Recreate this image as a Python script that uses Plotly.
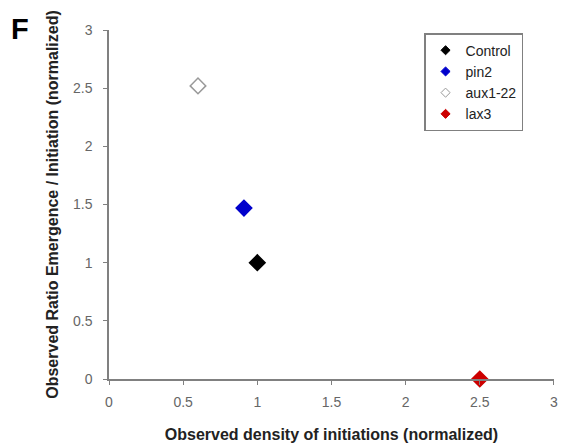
import plotly.graph_objects as go

names = ["Control", "pin2", "aux1-22", "lax3"]
x_vals = [1.0, 0.91, 0.60, 2.50]
y_vals = [1.0, 1.47, 2.52, 0.0]
fill_colors = ["#000000", "#0000CC", "#FFFFFF", "#CC0000"]
line_colors = ["#000000", "#0000CC", "#999999", "#CC0000"]
tick_vals = [0, 0.5, 1, 1.5, 2, 2.5, 3]
tick_text = ["0", "0.5", "1", "1.5", "2", "2.5", "3"]

FONT = "Arial, Liberation Sans"

fig = go.Figure()
for n, x, y, fc, lc in zip(names, x_vals, y_vals, fill_colors, line_colors):
    fig.add_trace(go.Scatter(
        x=[x], y=[y], mode="markers", name=n, showlegend=False,
        marker=dict(symbol="diamond", size=12, color=fc,
                    line=dict(color=lc, width=1.5)),
        cliponaxis=False,
    ))
# legend entries with small symbols
for n, fc, lc in zip(names, fill_colors, line_colors):
    fig.add_trace(go.Scatter(
        x=[None], y=[None], mode="markers", name=n,
        marker=dict(symbol="diamond", size=7, color=fc,
                    line=dict(color=lc, width=1)),
    ))

axis_common = dict(
    tickvals=tick_vals, ticktext=tick_text, automargin=False,
    showgrid=False, zeroline=False, showline=True, linecolor="#808080",
    linewidth=1.5, ticks="outside", ticklen=4, tickcolor="#808080",
    tickfont=dict(family=FONT, size=14, color="#666666"),
)

fig.update_layout(
    width=561, height=445,
    margin=dict(l=109, r=7, t=30, b=66, autoexpand=False),
    paper_bgcolor="white", plot_bgcolor="white",
    xaxis=dict(**axis_common, range=[0, 3.0005], ticklabelstandoff=5,
               title=dict(text="<b>Observed density of initiations (normalized)</b>",
                          font=dict(family=FONT, size=16, color="#222222"),
                          standoff=20)),
    yaxis=dict(**axis_common, range=[0, 3.0005], ticklabelstandoff=8,
               title=dict(text="<b>Observed Ratio Emergence / Initiation (normalized)</b>",
                          font=dict(family=FONT, size=16, color="#222222"),
                          standoff=10)),
    legend=dict(x=0.708, y=0.991, xanchor="left", yanchor="top",
                bordercolor="#808080", borderwidth=1.5, bgcolor="white",
                font=dict(family=FONT, size=14, color="#222222"),
                itemwidth=30, tracegroupgap=0),
    showlegend=True,
)
fig.add_annotation(text="<b>F</b>", xref="paper", yref="paper", x=-0.225, y=1.003,
                   xanchor="left", yanchor="middle", showarrow=False,
                   font=dict(family=FONT, size=29, color="black"))

fig.write_html(
    "out.html",
    config={"displayModeBar": False},
    post_script="document.body.style.margin='0';document.body.style.overflow='hidden';",
)
